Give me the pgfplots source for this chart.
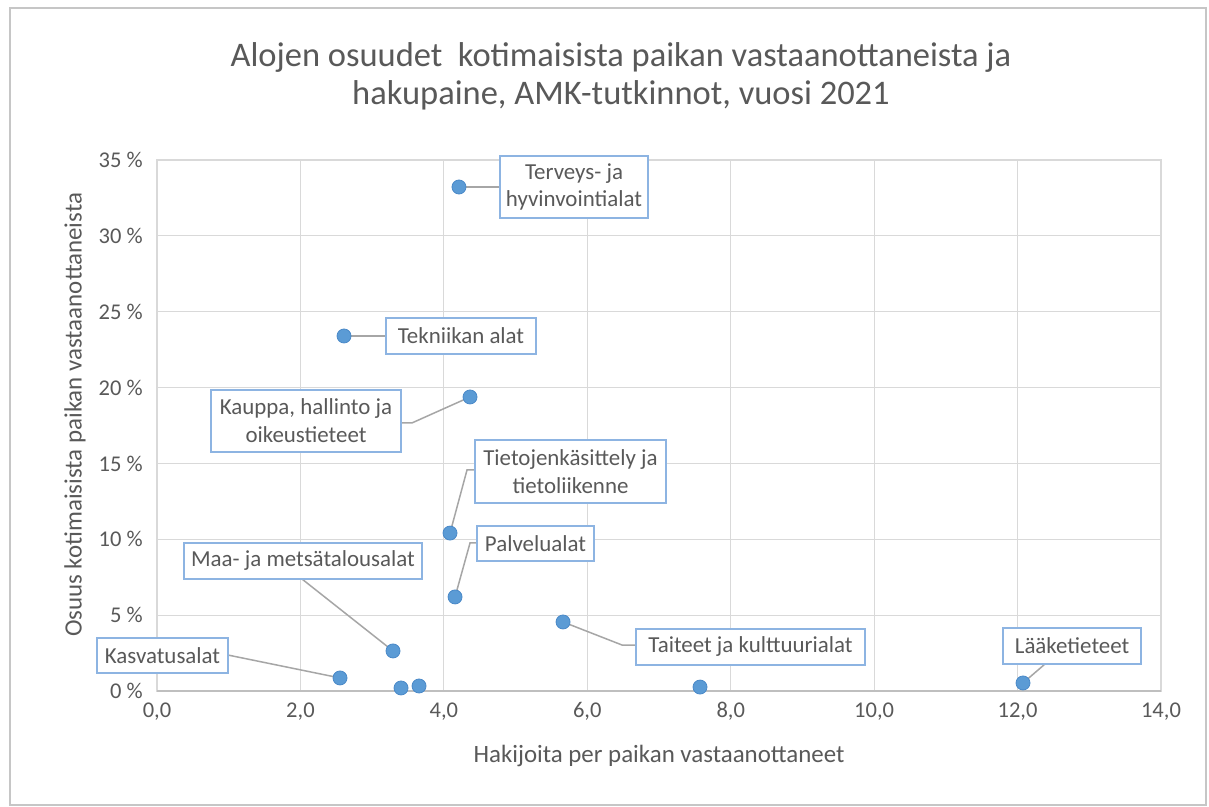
\documentclass[border=0pt]{standalone}
\usepackage{fontspec}
\setmainfont{Carlito}
\usepackage{pgfplots}
\pgfplotsset{compat=1.18}
\definecolor{txt}{HTML}{595959}
\definecolor{gridc}{HTML}{D9D9D9}
\definecolor{axc}{HTML}{BFBFBF}
\definecolor{dot}{HTML}{5B9BD5}
\definecolor{dotedge}{HTML}{4A89C8}
\definecolor{boxc}{HTML}{8DB4E2}
\definecolor{leader}{HTML}{A6A6A6}
\tikzset{lbl/.style={draw=boxc, line width=0.75bp, fill=white, text=txt, font=\fontsize{11.5}{14}\selectfont, align=center, inner sep=0pt}}
\begin{document}
\begin{tikzpicture}
\useasboundingbox (0,0) rectangle (604.5bp,403.5bp);
\fill[white] (0,0) rectangle (604.5bp,403.5bp);
\draw[gray!45, line width=1bp] (5bp,1bp) rectangle (603bp,399.5bp);
\node[anchor=base, text=txt, font=\fontsize{17.3}{20}\selectfont, inner sep=0pt] at (310.5bp,370bp) {Alojen osuudet\ \ kotimaisista paikan vastaanottaneista ja};
\node[anchor=base, text=txt, font=\fontsize{17.3}{20}\selectfont, inner sep=0pt] at (310.5bp,351bp) {hakupaine, AMK-tutkinnot, vuosi 2021};
\begin{axis}[
  at={(78.5bp,58bp)}, anchor=south west,
  width=502bp, height=265.5bp, scale only axis,
  xmin=0, xmax=14, ymin=0, ymax=35,
  xtick={0,2,...,14}, ytick={0,5,...,35},
  grid=major, major grid style={draw=gridc, line width=0.6bp},
  axis line style={draw=gridc, line width=0.6bp},
  tick style={draw=none}, major tick length=0pt,
  clip=false,
  /pgf/number format/assume math mode=true,
  ticklabel style={text=txt, font=\fontsize{11.3}{13}\selectfont, inner sep=0pt},
  yticklabel={\pgfmathprintnumber{\tick}~\%},
  yticklabel style={anchor=east, xshift=-7bp},
  xticklabel style={anchor=north, yshift=-5.5bp, /pgf/number format/.cd, fixed, fixed zerofill, precision=1, use comma},
  xlabel={Hakijoita per paikan vastaanottaneet},
  ylabel={Osuus kotimaisista paikan vastaanottaneista},
  label style={text=txt, font=\fontsize{12.5}{15}\selectfont},
  xlabel style={at={(axis description cs:0.5,-0.1224)}, anchor=center},
  ylabel style={at={(axis description cs:-0.0817,0.52)}, anchor=center},
]
\draw[axc, line width=0.75bp] (axis cs:0,0) -- (axis cs:14,0);
% leader lines
\draw[leader, line width=0.75bp] (axis cs:4.211,33.22) -- (axis cs:4.78,33.22);
\draw[leader, line width=0.75bp] (axis cs:2.608,23.40) -- (axis cs:3.19,23.40);
\draw[leader, line width=0.75bp] (axis cs:3.40,17.67) -- (axis cs:3.556,17.67) -- (axis cs:4.365,19.38);
\draw[leader, line width=0.75bp] (axis cs:4.435,14.57) -- (axis cs:4.323,14.57) -- (axis cs:4.086,10.41);
\draw[leader, line width=0.75bp] (axis cs:4.462,9.76) -- (axis cs:4.365,9.76) -- (axis cs:4.156,6.20);
\draw[leader, line width=0.75bp] (axis cs:2.022,7.38) -- (axis cs:3.291,2.64);
\draw[leader, line width=0.75bp] (axis cs:0.99,2.37) -- (axis cs:2.552,0.86);
\draw[leader, line width=0.75bp] (axis cs:6.68,3.03) -- (axis cs:6.485,3.03) -- (axis cs:5.662,4.55);
\draw[leader, line width=0.75bp] (axis cs:12.383,1.78) -- (axis cs:12.076,0.53);
\addplot[only marks, mark=*, mark size=3.5bp, mark options={fill=dot, draw=dotedge, line width=0.4bp}] table {
x y
4.211 33.22
2.608 23.40
4.365 19.38
4.086 10.41
4.156 6.20
3.291 2.64
2.552 0.86
3.403 0.20
3.654 0.33
5.662 4.55
7.572 0.26
12.076 0.53
};
% labels
\node[lbl, minimum width=74bp, minimum height=31bp] at (axis cs:5.815,33.22) {Terveys- ja\\hyvinvointialat};
\node[lbl, minimum width=75bp, minimum height=18bp] at (axis cs:4.239,23.40) {Tekniikan alat};
\node[lbl, minimum width=95bp, minimum height=31bp] at (axis cs:2.078,17.80) {Kauppa, hallinto ja\\oikeustieteet};
\node[lbl, minimum width=95.5bp, minimum height=31.5bp] at (axis cs:5.766,14.47) {Tietojenkäsittely ja\\tietoliikenne};
\node[lbl, minimum width=58.5bp, minimum height=17.5bp] at (axis cs:5.278,9.72) {Palvelualat};
\node[lbl, minimum width=119bp, minimum height=18bp] at (axis cs:2.036,8.57) {Maa- ja metsätalousalat};
\node[lbl, minimum width=65.5bp, minimum height=17.5bp] at (axis cs:0.077,2.34) {Kasvatusalat};
\node[lbl, minimum width=114.5bp, minimum height=18bp] at (axis cs:8.276,2.90) {Taiteet ja kulttuurialat};
\node[lbl, minimum width=69bp, minimum height=18bp] at (axis cs:12.76,2.97) {Lääketieteet};
\end{axis}
\end{tikzpicture}
\end{document}
